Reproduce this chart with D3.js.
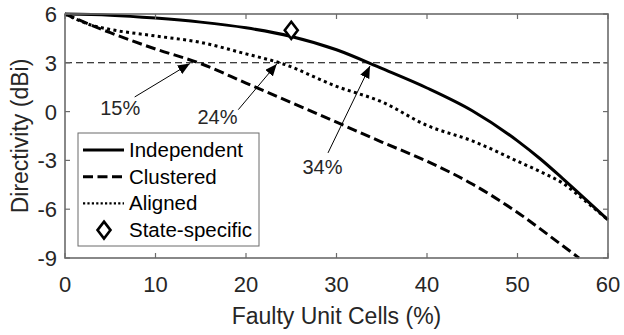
<!DOCTYPE html>
<html>
<head>
<meta charset="utf-8">
<script src="https://cdn.jsdelivr.net/npm/d3@7"></script>
<style>
  body { margin: 0; background: #fff; }
  svg { display: block; font-family: "Liberation Sans", Arial, sans-serif; }
  .tick-label { font-size: 22px; fill: #262626; }
  .axis-title { font-size: 23px; fill: #262626; }
  .note { font-size: 20px; fill: #262626; }
  .legend-text { font-size: 20.5px; fill: #000; }
</style>
</head>
<body>
<svg id="chart" width="624" height="335"></svg>
<script>
// faulty unit cells (%)
const faultyPct = [0, 5, 10, 15, 20, 25, 30, 35, 40, 45, 50, 52.5, 55, 57.5, 60];
// directivity (dBi) per fault model
const independent = [6.0, 5.93, 5.75, 5.5, 5.15, 4.62, 3.8, 2.65, 1.45, 0.05, -1.8, -2.9, -4.12, -5.38, -6.66];
const clusteredX = [0, 5, 10, 15, 20, 25, 30, 35, 40, 45, 50, 55, 56.8];
const clustered = [6.0, 4.85, 3.85, 2.95, 1.75, 0.55, -0.65, -1.87, -3.05, -4.45, -6.2, -8.25, -9.0];
const alignedX = [0, 3, 5, 10, 15, 20, 24, 30, 35, 40, 45, 50, 52.5, 55, 57.5, 60];
const aligned = [6.0, 5.3, 5.05, 4.65, 4.25, 3.55, 2.95, 1.55, 0.6, -0.85, -1.8, -3.05, -3.69, -4.4, -5.5, -6.66];
// state-specific point
const stateSpecific = [{ x: 25, y: 5 }];

const threshold = 3;
const xTicks = [0, 10, 20, 30, 40, 50, 60];
const yTicks = [-9, -6, -3, 0, 3, 6];

// annotations: tip / tail / text in data units
const notes = [
    { label: '15%', tip: [13.8, 2.95], tail: [7.7, 0.9], text: [6.1, -0.2] },
    { label: '24%', tip: [23.4, 2.93], tail: [19.15, 0.12], text: [16.85, -0.78] },
    { label: '34%', tip: [33.7, 2.8], tail: [29.06, -2.54], text: [28.45, -3.83] }
];

const legendItems = ['Independent', 'Clustered', 'Aligned', 'State-specific'];

const svg = d3.select('#chart');
const x = d3.scaleLinear().domain([0, 60]).range([65, 608]);
const y = d3.scaleLinear().domain([-9, 6]).range([258, 14]);

const axisColor = '#6b6b6b';

// defs: arrowhead
svg.append('defs').append('marker')
    .attr('id', 'arrow')
    .attr('viewBox', '0 0 12 10')
    .attr('refX', 12)
    .attr('refY', 5)
    .attr('markerWidth', 12)
    .attr('markerHeight', 10)
    .attr('markerUnits', 'userSpaceOnUse')
    .attr('orient', 'auto')
    .append('path')
    .attr('d', 'M0,0 L12,5 L0,10 Z')
    .attr('fill', '#000');

// threshold line
svg.append('line')
    .attr('x1', x(0)).attr('x2', x(60))
    .attr('y1', y(threshold)).attr('y2', y(threshold))
    .attr('stroke', '#000')
    .attr('stroke-width', 1.1)
    .attr('stroke-dasharray', '7,4');

const line = d3.line().curve(d3.curveMonotoneX);

const series = [
    { xs: faultyPct, ys: independent, dash: null, width: 3 },
    { xs: clusteredX, ys: clustered, dash: '10,4.5', width: 3 },
    { xs: alignedX, ys: aligned, dash: '3,3.4', width: 3 }
];

series.forEach(s => {
    const pts = s.xs.map((v, i) => [x(v), y(s.ys[i])]);
    svg.append('path')
        .attr('d', line(pts))
        .attr('fill', 'none')
        .attr('stroke', '#000')
        .attr('stroke-width', s.width)
        .attr('stroke-dasharray', s.dash);
});

const diamond = 'M0,-8.5 L6.5,0 L0,8.5 L-6.5,0 Z';

svg.selectAll('.state')
    .data(stateSpecific)
    .enter()
    .append('path')
    .attr('class', 'state')
    .attr('d', diamond)
    .attr('transform', d => `translate(${x(d.x)},${y(d.y)})`)
    .attr('fill', '#fff')
    .attr('stroke', '#000')
    .attr('stroke-width', 2.6);

// annotations
notes.forEach(n => {
    svg.append('line')
        .attr('x1', x(n.tail[0])).attr('y1', y(n.tail[1]))
        .attr('x2', x(n.tip[0])).attr('y2', y(n.tip[1]))
        .attr('stroke', '#000')
        .attr('stroke-width', 1)
        .attr('marker-end', 'url(#arrow)');
    svg.append('text')
        .attr('class', 'note')
        .attr('x', x(n.text[0]))
        .attr('y', y(n.text[1]))
        .attr('text-anchor', 'middle')
        .text(n.label);
});

// box + ticks
const g = svg.append('g');
g.append('rect')
    .attr('x', x(0)).attr('y', y(6))
    .attr('width', x(60) - x(0)).attr('height', y(-9) - y(6))
    .attr('fill', 'none')
    .attr('stroke', axisColor)
    .attr('stroke-width', 1.6);

const tl = 5;
xTicks.forEach(t => {
    g.append('line').attr('x1', x(t)).attr('x2', x(t)).attr('y1', y(-9)).attr('y2', y(-9) - tl)
        .attr('stroke', axisColor).attr('stroke-width', 1.2);
    g.append('line').attr('x1', x(t)).attr('x2', x(t)).attr('y1', y(6)).attr('y2', y(6) + tl)
        .attr('stroke', axisColor).attr('stroke-width', 1.2);
    g.append('text').attr('class', 'tick-label')
        .attr('x', x(t)).attr('y', y(-9) + 34)
        .attr('text-anchor', 'middle')
        .text(t);
});
yTicks.forEach(t => {
    g.append('line').attr('x1', x(0)).attr('x2', x(0) + tl).attr('y1', y(t)).attr('y2', y(t))
        .attr('stroke', axisColor).attr('stroke-width', 1.2);
    g.append('line').attr('x1', x(60)).attr('x2', x(60) - tl).attr('y1', y(t)).attr('y2', y(t))
        .attr('stroke', axisColor).attr('stroke-width', 1.2);
    g.append('text').attr('class', 'tick-label')
        .attr('x', x(0) - 8).attr('y', y(t) + 8)
        .attr('text-anchor', 'end')
        .text(t);
});

// axis titles
svg.append('text').attr('class', 'axis-title')
    .attr('x', (x(0) + x(60)) / 2).attr('y', 324)
    .attr('text-anchor', 'middle')
    .text('Faulty Unit Cells (%)');
svg.append('text').attr('class', 'axis-title')
    .attr('transform', `translate(28,${(y(6) + y(-9)) / 2}) rotate(-90)`)
    .attr('text-anchor', 'middle')
    .text('Directivity (dBi)');

// legend
const lg = svg.append('g').attr('transform', 'translate(78,133)');
lg.append('rect')
    .attr('width', 181).attr('height', 113)
    .attr('fill', '#fff')
    .attr('stroke', axisColor)
    .attr('stroke-width', 1);

const legendDash = [null, '10,4.5', '2.2,2.2', 'marker'];
legendItems.forEach((name, i) => {
    const cy = 17 + i * 26.7;
    if (legendDash[i] === 'marker') {
        lg.append('path')
            .attr('d', diamond)
            .attr('transform', `translate(26,${cy})`)
            .attr('fill', '#fff')
            .attr('stroke', '#000')
            .attr('stroke-width', 2.6);
    } else {
        lg.append('line')
            .attr('x1', 5).attr('x2', 46)
            .attr('y1', cy).attr('y2', cy)
            .attr('stroke', '#000')
            .attr('stroke-width', i === 2 ? 2.2 : 3)
            .attr('stroke-dasharray', legendDash[i]);
    }
    lg.append('text').attr('class', 'legend-text')
        .attr('x', 51).attr('y', cy + 7)
        .text(name);
});
</script>
</body>
</html>
